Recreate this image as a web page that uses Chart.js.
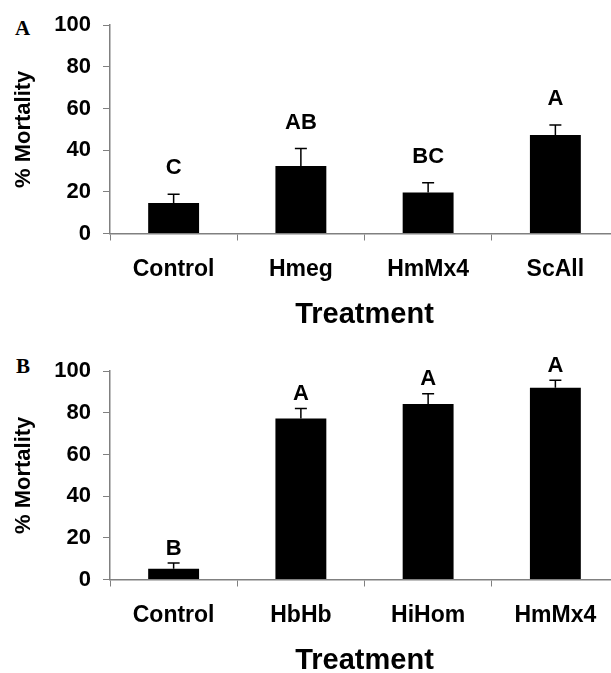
<!DOCTYPE html>
<html>
<head>
<meta charset="utf-8">
<script src="https://cdn.jsdelivr.net/npm/chart.js@4.4.1/dist/chart.umd.min.js"></script>
<style>
  html, body { margin: 0; padding: 0; background: #fff; overflow: hidden; width: 611px; height: 673px; }
  .panel { position: absolute; left: 0; }
  .tag { position: absolute; font: bold 21px "Liberation Serif", "Times New Roman", serif; color: #000; }
</style>
</head>
<body>
<div class="tag" style="left:15px; top:16px;">A</div>
<div class="tag" style="left:16px; top:354px;">B</div>
<canvas id="chartA" class="panel" style="top:0px;" width="619" height="336"></canvas>
<canvas id="chartB" class="panel" style="top:346px;" width="619" height="336"></canvas>
<script>
// panel A
const treatmentsA = ["Control", "Hmeg", "HmMx4", "ScAll"];
const mortalityA = [14.6, 32.4, 19.7, 47.3];
const errorA = [4.3, 8.4, 4.7, 4.8];
const lettersA = ["C", "AB", "BC", "A"];

// panel B
const treatmentsB = ["Control", "HbHb", "HiHom", "HmMx4"];
const mortalityB = [5.2, 77.3, 84.3, 92.1];
const errorB = [2.7, 4.8, 4.9, 3.5];
const lettersB = ["B", "A", "A", "A"];

const yTicks = [0, 20, 40, 60, 80, 100];

const FONT = "'Liberation Sans', Arial, sans-serif";
const AXIS_GREY = "#808080";

// error bars (upper only) + significance letters
const errorBarPlugin = {
    id: "errorBars",
    afterDatasetsDraw(chart, args, opts) {
        const ctx = chart.ctx;
        const meta = chart.getDatasetMeta(0);
        const yScale = chart.scales.y;
        ctx.save();
        meta.data.forEach((bar, i) => {
            const v = opts.values[i];
            const top = yScale.getPixelForValue(v + opts.errors[i]);
            const base = yScale.getPixelForValue(v);
            ctx.strokeStyle = "#000";
            ctx.lineWidth = 1.5;
            ctx.beginPath();
            ctx.moveTo(bar.x, base);
            ctx.lineTo(bar.x, top);
            ctx.moveTo(bar.x - 6, top);
            ctx.lineTo(bar.x + 6, top);
            ctx.stroke();

            ctx.fillStyle = "#000";
            ctx.font = "bold 22px " + FONT;
            ctx.textAlign = "center";
            ctx.textBaseline = "middle";
            ctx.fillText(opts.letters[i], bar.x, top - opts.letterGap);
        });
        ctx.restore();
    }
};

function makeChart(id, labels, values, errors, letters, letterGap) {
    const ctx = document.getElementById(id).getContext("2d");
    return new Chart(ctx, {
        type: "bar",
        data: {
            labels: labels,
            datasets: [{
                data: values,
                backgroundColor: "#000",
                borderColor: "#000",
                borderWidth: 0,
                barPercentage: 0.4,
                categoryPercentage: 1.0
            }]
        },
        options: {
            responsive: false,
            animation: false,
            devicePixelRatio: 1,
            layout: { padding: { top: 22, left: 0, right: 0, bottom: 0 } },
            plugins: {
                legend: { display: false },
                tooltip: { enabled: false },
                errorBars: { values: values, errors: errors, letters: letters, letterGap: letterGap }
            },
            scales: {
                x: {
                    offset: true,
                    grid: {
                        offset: true,
                        drawOnChartArea: false,
                        tickLength: 7,
                        color: AXIS_GREY
                    },
                    border: { color: AXIS_GREY, width: 1.5 },
                    ticks: {
                        color: "#000",
                        padding: 15,
                        font: { family: FONT, size: 23, weight: "bold" }
                    },
                    title: {
                        display: true,
                        text: "Treatment",
                        color: "#000",
                        padding: { top: 0, bottom: 4 },
                        font: { family: FONT, size: 29, weight: "bold" }
                    },
                    afterFit(scale) { scale.height = 336 - 233.5; }
                },
                y: {
                    min: 0,
                    max: 100,
                    afterBuildTicks(scale) { scale.ticks = yTicks.map(v => ({ value: v })); },
                    grid: {
                        drawOnChartArea: false,
                        tickLength: 7,
                        color: AXIS_GREY
                    },
                    border: { color: AXIS_GREY, width: 1.5 },
                    ticks: {
                        color: "#000",
                        padding: 12,
                        font: { family: FONT, size: 22, weight: "bold" }
                    },
                    title: {
                        display: true,
                        text: "% Mortality",
                        color: "#000",
                        padding: { top: 11, bottom: 0 },
                        font: { family: FONT, size: 22, weight: "bold" }
                    },
                    afterFit(scale) { scale.width = 110; }
                }
            }
        },
        plugins: [errorBarPlugin]
    });
}

makeChart("chartA", treatmentsA, mortalityA, errorA, lettersA, 26);
makeChart("chartB", treatmentsB, mortalityB, errorB, lettersB, 14.5);
</script>
</body>
</html>
